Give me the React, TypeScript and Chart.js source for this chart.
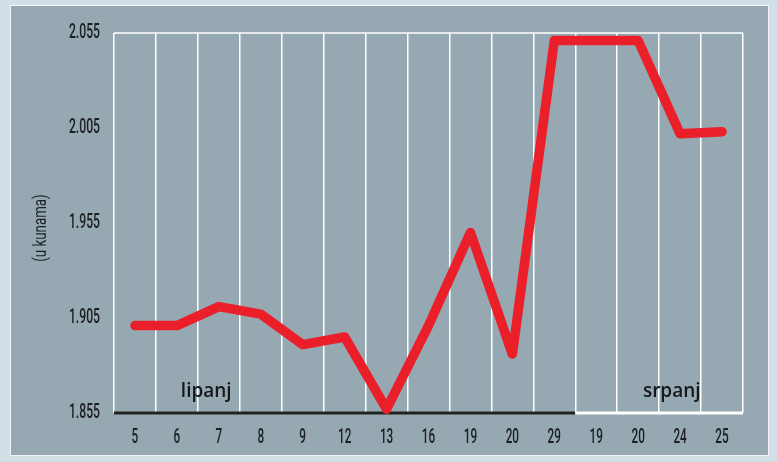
import React, { useEffect, useRef } from "react";
import { Chart, registerables } from "chart.js";

Chart.register(...registerables);

const categories = ["5", "6", "7", "8", "9", "12", "13", "16", "19", "20", "29", "19", "20", "24", "25"];
const prices = [1.901, 1.901, 1.911, 1.907, 1.891, 1.895, 1.857, 1.901, 1.95, 1.886, 2.051, 2.051, 2.051, 2.002, 2.003];
const yTicks = [1.855, 1.905, 1.955, 2.005, 2.055];
const yTitle = "(u kunama)";
const monthLabels = ["lipanj", "srpanj"];
const monthLabelAt = [1.7, 12.8];
const monthSplit = 10.5;

const NARROW_FONT = "Roboto, 'Liberation Sans', Arial, sans-serif";
const LABEL_FONT = "'Open Sans', 'DejaVu Sans', sans-serif";
const TEXT_COLOR = "#1c1f22";

// draw horizontally condensed text (the original uses a condensed typeface)
function condensedText(ctx: any, text: string, x: number, y: number, squeeze: number, align: string, rotate = 0) {
  ctx.save();
  ctx.translate(x, y);
  if (rotate) ctx.rotate(rotate);
  ctx.scale(squeeze, 1);
  ctx.textAlign = align;
  ctx.textBaseline = "middle";
  ctx.fillText(text, 0, 0);
  ctx.restore();
}

const decorPlugin = {
  id: "decor",
  beforeDatasetsDraw(chart: any) {
    const { ctx, chartArea, scales } = chart;
    const x = scales.x;
    const y = scales.y;
    const { left, right, top, bottom } = chartArea;
    const split = x.getPixelForValue(monthSplit);
    ctx.save();
    // top border
    ctx.strokeStyle = "#ffffff";
    ctx.lineWidth = 1.5;
    ctx.beginPath();
    ctx.moveTo(left, top);
    ctx.lineTo(right, top);
    ctx.stroke();
    // bottom axis: dark for first month, white for second
    ctx.lineWidth = 3;
    ctx.strokeStyle = "#222222";
    ctx.beginPath();
    ctx.moveTo(left, bottom);
    ctx.lineTo(split, bottom);
    ctx.stroke();
    ctx.strokeStyle = "#ffffff";
    ctx.beginPath();
    ctx.moveTo(split, bottom);
    ctx.lineTo(right, bottom);
    ctx.stroke();
    // month labels
    ctx.fillStyle = "#151719";
    ctx.font = `600 19px ${LABEL_FONT}`;
    ctx.textAlign = "center";
    ctx.textBaseline = "middle";
    monthLabels.forEach((m, i) => {
      ctx.fillText(m, x.getPixelForValue(monthLabelAt[i]), bottom - 21);
    });

    // tick labels (condensed)
    ctx.fillStyle = TEXT_COLOR;
    ctx.font = `500 21px ${NARROW_FONT}`;
    x.ticks.forEach((t: any, i: number) => {
      condensedText(ctx, String(t.label), x.getPixelForTick(i), bottom + 25, 0.56, "center");
    });
    y.ticks.forEach((t: any, i: number) => {
      condensedText(ctx, String(t.label), left - 14, y.getPixelForTick(i), 0.58, "right");
    });
    // axis title
    ctx.font = `19px ${NARROW_FONT}`;
    condensedText(ctx, yTitle, 41, (top + bottom) / 2 + 5, 0.7, "center", -Math.PI / 2);
    ctx.restore();
  },
};

export default function App() {
  const ref = useRef<HTMLCanvasElement | null>(null);
  useEffect(() => {
    document.body.style.margin = "0";
    if (!ref.current) return;
    const chart = new Chart(ref.current, {
      type: "line",
      data: {
        labels: categories,
        datasets: [
          {
            data: prices,
            borderColor: "#ea1f2a",
            borderWidth: 9.5,
            borderCapStyle: "round",
            borderJoinStyle: "round",
            pointRadius: 0,
            tension: 0,
            fill: false,
            clip: false,
          },
        ],
      },
      options: {
        animation: false,
        responsive: false,
        devicePixelRatio: 1,
        layout: { padding: { top: 33, right: 34, left: 0, bottom: 0 } },
        plugins: { legend: { display: false }, tooltip: { enabled: false } },
        scales: {
          x: {
            offset: true,
            grid: { offset: true, color: "#ffffff", lineWidth: 1.5, drawTicks: false },
            border: { display: false },
            ticks: { display: false, autoSkip: false, maxRotation: 0 },
            afterFit: (s: any) => {
              s.height = 49;
            },
          },
          y: {
            min: yTicks[0],
            max: yTicks[yTicks.length - 1],
            afterBuildTicks: (s: any) => {
              s.ticks = yTicks.map((v) => ({ value: v }));
            },
            grid: { display: false },
            border: { display: false },
            ticks: {
              display: false,
              callback: (v: any) => Number(v).toFixed(3),
            },
            afterFit: (s: any) => {
              s.width = 114;
            },
          },
        },
      },
      plugins: [decorPlugin],
    });
    return () => chart.destroy();
  }, []);

  return (
    <div style={{ position: "fixed", left: 0, top: 0, width: 777, height: 462, background: "#d3dfe6", overflow: "hidden" }}>
      <div
        style={{
          position: "absolute",
          left: 10,
          top: 5,
          width: 757,
          height: 449,
          background: "#96a8b2",
          border: "1.5px solid #f4f7f9",
        }}
      />
      <canvas ref={ref} width={777} height={462} style={{ position: "absolute", left: 0, top: 0 }} />
    </div>
  );
}
